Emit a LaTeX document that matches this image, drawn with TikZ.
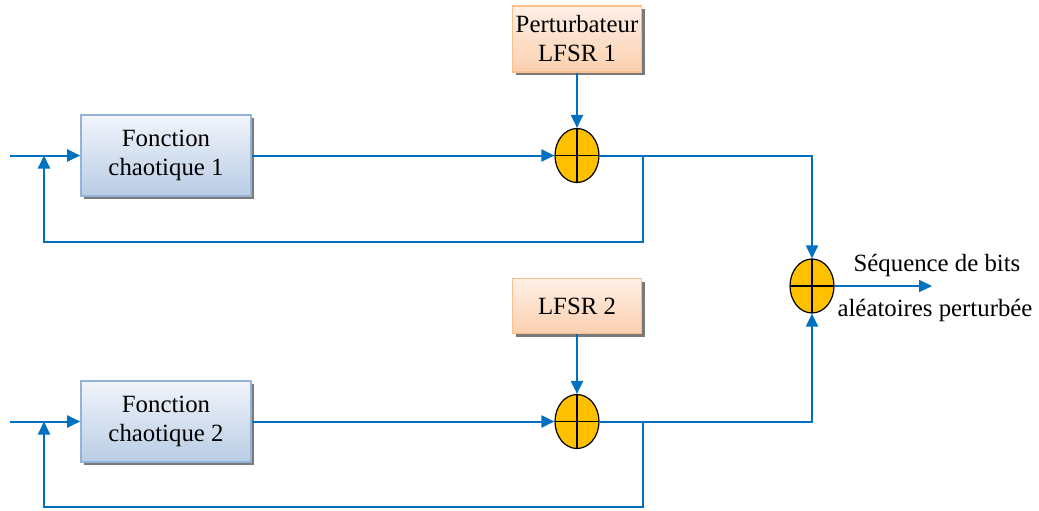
\documentclass[tikz,border=0pt]{standalone}
\usepackage{fontspec}
\setmainfont{Liberation Serif}
\usetikzlibrary{arrows.meta, shapes.geometric, shadows, positioning, calc}

\definecolor{wireblue}{HTML}{0070C0}
\definecolor{chaosline}{HTML}{95B3D7}
\definecolor{chaostop}{HTML}{F2F5FB}
\definecolor{chaosbot}{HTML}{B8CCE4}
\definecolor{lfsrline}{HTML}{FABF8F}
\definecolor{lfsrtop}{HTML}{FEEFE6}
\definecolor{lfsrbot}{HTML}{FBD0AE}
\definecolor{xorfill}{HTML}{FFC000}

\begin{document}
\begin{tikzpicture}[x=0.5pt,y=-0.5pt,align=center,
  font=\fontsize{12.4}{14.5}\selectfont]
\tikzstyle{chaos}=[rectangle,draw=chaosline,line width=0.8pt,top color=chaostop,bottom color=chaosbot,
  minimum width=85pt,minimum height=40.5pt,inner sep=0pt,
  drop shadow={shadow xshift=1.5pt,shadow yshift=-1.5pt,fill=black!65,opacity=0.8}]
\tikzstyle{lfsr}=[rectangle,draw=lfsrline,line width=0.8pt,top color=lfsrtop,bottom color=lfsrbot,
  minimum width=64.5pt,inner sep=0pt,
  drop shadow={shadow xshift=1.5pt,shadow yshift=-1.5pt,fill=black!65,opacity=0.8}]
\tikzstyle{xor}=[ellipse,draw=black,line width=0.6pt,fill=xorfill,minimum width=22pt,minimum height=27pt,inner sep=0pt,
  path picture={\draw[line width=0.6pt] (path picture bounding box.north) -- (path picture bounding box.south)
    (path picture bounding box.west) -- (path picture bounding box.east);}]
\tikzstyle{wire}=[draw=wireblue,line width=1pt]
\tikzstyle{arr}=[wire,-{Triangle[length=6.5pt,width=6pt]}]

\useasboundingbox (0,0) rectangle (1039,510);

% upper branch
\node[chaos] (fc1) at (166,155.5) {Fonction\\chaotique 1};
\node[xor] (xor1) at (577,155.5) {};
\node[lfsr,minimum height=33pt] (lfsr1) at (577,39) {Perturbateur\\LFSR 1};
\coordinate (in1) at (10,155.5);
\coordinate (tap1) at (643,155.5);
\coordinate (fb1) at (44,242);

% lower branch
\node[chaos] (fc2) at (166,421.5) {Fonction\\chaotique 2};
\node[xor] (xor2) at (577,421.5) {};
\node[lfsr,minimum height=27.5pt] (lfsr2) at (577,306) {LFSR 2};
\coordinate (in2) at (10,421.5);
\coordinate (tap2) at (643,421.5);
\coordinate (fb2) at (44,507);

% output
\node[xor] (xor3) at (812,286) {};
\coordinate (out) at (932,286);
\node (seq1) at (937,266) {Séquence de bits};
\node (seq2) at (935,311) {aléatoires perturbée};

\draw[arr] (in1) -- (fc1.west);
\draw[arr] (fc1.east) -- (xor1.west);
\draw[arr] (lfsr1.south) -- (xor1.north);
\draw[arr] (tap1) |- (fb1) -- (fb1 |- in1);
\draw[arr] (xor1.east) -| (xor3.north);

\draw[arr] (in2) -- (fc2.west);
\draw[arr] (fc2.east) -- (xor2.west);
\draw[arr] (lfsr2.south) -- (xor2.north);
\draw[arr] (tap2) |- (fb2) -- (fb2 |- in2);
\draw[arr] (xor2.east) -| (xor3.south);

\draw[arr] (xor3.east) -- (out);
\end{tikzpicture}
\end{document}
